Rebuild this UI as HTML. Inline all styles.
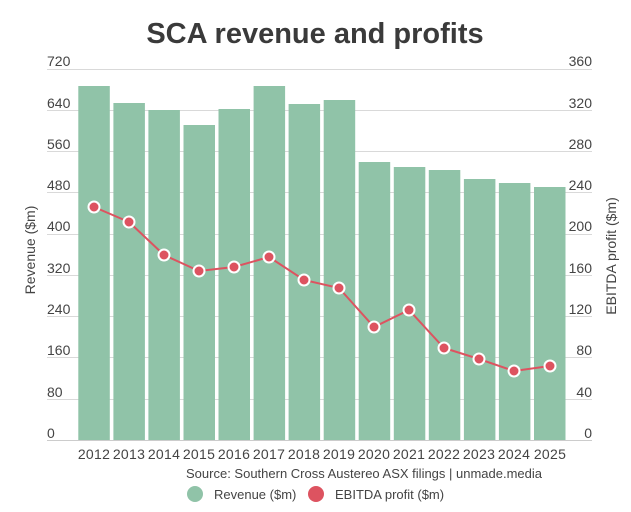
<!DOCTYPE html>
<html><head><meta charset="utf-8"><style>body{margin:0;background:#fff}svg{display:block}text{font-family:"Liberation Sans",sans-serif;fill:#444}</style></head><body>
<svg width="631" height="512" viewBox="0 0 631 512">
<text x="315" y="43" text-anchor="middle" font-size="29" font-weight="bold" fill="#3a3a3a" style="fill:#3a3a3a">SCA revenue and profits</text>
<g stroke="#d9d9d9" stroke-width="1">
<line x1="47" x2="592" y1="69.5" y2="69.5"/><line x1="47" x2="592" y1="110.5" y2="110.5"/><line x1="47" x2="592" y1="151.5" y2="151.5"/><line x1="47" x2="592" y1="192.5" y2="192.5"/><line x1="47" x2="592" y1="234.5" y2="234.5"/><line x1="47" x2="592" y1="275.5" y2="275.5"/><line x1="47" x2="592" y1="316.5" y2="316.5"/><line x1="47" x2="592" y1="357.5" y2="357.5"/><line x1="47" x2="592" y1="399.5" y2="399.5"/>
</g>
<g font-size="14">
<text x="47" y="66">720</text><text x="47" y="108">640</text><text x="47" y="149">560</text><text x="47" y="190">480</text><text x="47" y="231">400</text><text x="47" y="273">320</text><text x="47" y="314">240</text><text x="47" y="355">160</text><text x="47" y="397">80</text><text x="47" y="438">0</text>
</g>
<g font-size="14" text-anchor="end">
<text x="592" y="66">360</text><text x="592" y="108">320</text><text x="592" y="149">280</text><text x="592" y="190">240</text><text x="592" y="231">200</text><text x="592" y="273">160</text><text x="592" y="314">120</text><text x="592" y="355">80</text><text x="592" y="397">40</text><text x="592" y="438">0</text>
</g>
<text transform="translate(35,250) rotate(-90)" text-anchor="middle" font-size="14">Revenue ($m)</text>
<text transform="translate(616,256) rotate(-90)" text-anchor="middle" font-size="14">EBITDA profit ($m)</text>
<g fill="#90c3a8">
<rect x="78.3" y="86" width="31.5" height="354"/>
<rect x="113.4" y="103" width="31.5" height="337"/>
<rect x="148.4" y="110" width="31.5" height="330"/>
<rect x="183.5" y="125" width="31.5" height="315"/>
<rect x="218.5" y="109" width="31.5" height="331"/>
<rect x="253.6" y="86" width="31.5" height="354"/>
<rect x="288.6" y="104" width="31.5" height="336"/>
<rect x="323.7" y="100" width="31.5" height="340"/>
<rect x="358.7" y="162" width="31.5" height="278"/>
<rect x="393.8" y="167" width="31.5" height="273"/>
<rect x="428.8" y="170" width="31.5" height="270"/>
<rect x="463.9" y="179" width="31.5" height="261"/>
<rect x="498.9" y="183" width="31.5" height="257"/>
<rect x="534" y="187" width="31.5" height="253"/>
</g>
<line x1="47" x2="592" y1="440.5" y2="440.5" stroke="#ccc"/>
<polyline fill="none" stroke="#dd5360" stroke-width="2" points="94,207 129,222 164,255 199,271 234,267 269,257 304,280 339,288 374,327 409,310 444,348 479,359 514,371 550,366"/>
<g fill="#dd5360" stroke="#fff" stroke-width="2">
<circle cx="94" cy="207" r="5.5"/><circle cx="129" cy="222" r="5.5"/><circle cx="164" cy="255" r="5.5"/><circle cx="199" cy="271" r="5.5"/><circle cx="234" cy="267" r="5.5"/><circle cx="269" cy="257" r="5.5"/><circle cx="304" cy="280" r="5.5"/><circle cx="339" cy="288" r="5.5"/><circle cx="374" cy="327" r="5.5"/><circle cx="409" cy="310" r="5.5"/><circle cx="444" cy="348" r="5.5"/><circle cx="479" cy="359" r="5.5"/><circle cx="514" cy="371" r="5.5"/><circle cx="550" cy="366" r="5.5"/>
</g>
<g font-size="14" text-anchor="middle" style="letter-spacing:0.3px">
<text x="94" y="459">2012</text><text x="129" y="459">2013</text><text x="164" y="459">2014</text><text x="199" y="459">2015</text><text x="234" y="459">2016</text><text x="269" y="459">2017</text><text x="304" y="459">2018</text><text x="339" y="459">2019</text><text x="374" y="459">2020</text><text x="409" y="459">2021</text><text x="444" y="459">2022</text><text x="479" y="459">2023</text><text x="514" y="459">2024</text><text x="550" y="459">2025</text>
</g>
<text x="186" y="478" font-size="13">Source: Southern Cross Austereo ASX filings | unmade.media</text>
<circle cx="195" cy="494" r="8" fill="#90c3a8"/>
<text x="214" y="499" font-size="13">Revenue ($m)</text>
<circle cx="316" cy="494" r="8" fill="#dd5360"/>
<text x="335" y="499" font-size="13">EBITDA profit ($m)</text>
</svg>
</body></html>
